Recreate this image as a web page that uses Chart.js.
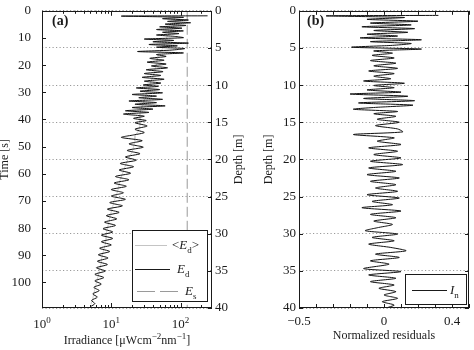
<!DOCTYPE html>
<html>
<head>
<meta charset="utf-8">
<script src="https://cdn.jsdelivr.net/npm/chart.js@4.4.1/dist/chart.umd.min.js"></script>
<style>
  body { margin: 0; background: #fff; width: 474px; height: 350px; position: relative; overflow: hidden; }
  .panel { position: absolute; top: 0; }
  #panelA { left: 0; }
  #panelB { left: 252px; }
</style>
</head>
<body>
<div class="panel" id="panelA"><canvas id="irrChart" width="252" height="350"></canvas></div>
<div class="panel" id="panelB"><canvas id="resChart" width="222" height="350"></canvas></div>
<script>
const SERIF = "'Liberation Serif', 'DejaVu Serif', serif";
const INK = "#1a1a1a";

// =============================
// PANEL (a): irradiance against time
// =============================
const edTime = [
  1.85, 1.95, 2.4, 2.9, 3.4, 3.9, 4.4, 4.9, 5.4, 5.9, 6.4, 6.9, 7.4, 7.9, 8.4, 8.9, 9.4,
  9.9, 10.4, 10.9, 11.4, 11.9, 12.4, 12.9, 13.4, 13.9, 14.5, 15.0, 15.5,
  16.1, 16.8, 17.5, 18.2, 18.9, 19.6, 20.3, 21.0, 21.7, 22.4, 23.1, 23.8, 24.5,
  25.2, 25.9, 26.6, 27.3, 27.8, 28.4, 29.0, 29.6,
  30.2, 30.8, 31.4, 32.0, 32.6, 33.2, 33.8, 34.4, 35.0, 35.6, 36.2, 36.8, 37.4,
  38.0, 38.8, 39.6, 40.4, 41.2,
  42.4, 43.6, 44.8, 45.7, 46.6, 47.8, 49.0, 50.2, 51.4, 52.6, 53.8, 55.0, 56.2, 57.4, 58.6, 59.8, 61.0, 62.2, 63.4, 64.6,
  65.8, 67.0, 68.2, 69.4, 70.6, 71.8, 73.0, 74.2, 75.4, 76.6, 77.8, 79.0, 80.2, 81.4, 82.6, 83.8, 85.0, 86.2, 87.4, 88.6,
  89.8, 91.0, 92.2, 93.4, 94.6, 95.8, 97.0, 98.2, 99.4, 100.6, 101.8, 103.0, 104.2, 105.4, 106.6, 107.8, 108.9
];
const edVal = [
  246, 14, 110, 55, 130, 65, 140, 60, 120, 50, 105, 45, 110, 55, 95, 45, 80,
  110, 30, 80, 40, 130, 35, 90, 45, 115, 70, 24, 110,
  45, 62, 36, 58, 33, 62, 38, 65, 32, 56, 30, 52, 28,
  58, 30, 52, 29, 48, 23, 50, 26,
  55, 20, 45, 25, 55, 18, 45, 22, 60, 20, 40, 16, 35,
  15, 30, 21, 32, 22,
  33, 22, 30, 21, 14, 28, 18, 29, 17, 26, 16, 23, 13.5, 21, 13, 19, 11.5, 18, 11, 16.5,
  10, 15, 10, 16, 9.5, 14.5, 8.8, 13, 8.5, 12, 8, 11.5, 7.6, 10.5, 7.2, 10.5, 7.2, 10, 6.8, 9.5,
  6.5, 9, 6.3, 8.8, 6.1, 8.2, 5.8, 7.8, 5.8, 7.2, 5.6, 6.7, 5.4, 6.3, 5.2, 5.8, 5.0
];

// running mean <Ed>
const meanTime = [2, 4, 6, 8, 10, 12, 14, 16, 18, 20, 22, 24, 26, 28, 30, 32, 34, 36, 38, 40,
  42, 44, 46, 48, 50, 52, 54, 56, 58, 60, 62, 64, 66, 68, 70, 72, 74, 76, 78, 80,
  82, 84, 86, 88, 90, 92, 94, 96, 98, 100, 102, 104, 106, 108];
const meanVal = [80, 85, 78, 70, 62, 60, 55, 48, 46, 45, 42, 41, 37, 36, 33, 31, 29, 27, 26, 26,
  26, 25, 22, 22, 21, 20, 18, 16.5, 15.5, 14.5, 13.5, 13, 12.5, 11.8, 11, 10.5, 10, 9.5, 9.2, 8.8,
  8.5, 8.4, 8.2, 7.8, 7.4, 7.2, 7, 6.7, 6.4, 6.1, 5.9, 5.6, 5.4, 5.1];

// surface reference Es
const esTime = [0, 109.4];
const esVal = [125, 125];

const timeMax = 109.4;
const depthMax = 40;
const irrMin = 1;
const irrMax = 285;
const timeTicks = [0, 10, 20, 30, 40, 50, 60, 70, 80, 90, 100];
const depthTicks = [0, 5, 10, 15, 20, 25, 30, 35, 40];
const decadeTicks = [1, 10, 100];
const minorLogTicks = [2, 3, 4, 5, 6, 7, 8, 9, 20, 30, 40, 50, 60, 70, 80, 90, 200];

// =============================
// PANEL (b): normalized residuals against depth
// =============================
const resDepth = [
  0.62, 0.68, 0.9, 1.15, 1.4, 1.65, 1.9, 2.15, 2.4, 2.65, 2.9, 3.15, 3.4, 3.65, 3.9, 4.15, 4.4, 4.65, 4.9, 5.15, 5.4,
  5.7, 6.0, 6.35, 6.7, 7.05, 7.4, 7.75, 8.1, 8.45, 8.8, 9.15, 9.45, 9.75, 10.05, 10.35, 10.65, 10.95, 11.2, 11.5, 11.8,
  12.1, 12.4, 12.7, 13.0, 13.25, 13.55, 13.85,
  14.2, 14.6, 15.0, 15.45, 15.9, 16.3, 16.65, 17.1, 17.55, 18.0, 18.45, 18.9, 19.35, 19.8, 20.25, 20.7, 21.15, 21.6, 22.05, 22.5,
  22.95, 23.4, 23.85, 24.3, 24.75, 25.2, 25.65, 26.1, 26.5, 26.95, 27.4, 27.85, 28.3, 28.75, 29.2, 29.6, 30.05, 30.5, 30.95, 31.4,
  31.85, 32.3, 32.75, 33.2, 33.65, 34.1, 34.7, 35.1, 35.55, 36.0, 36.45, 36.9, 37.35, 37.8, 38.25, 38.7, 39.15, 39.6, 39.95
];
const resVal = [
  0.32, -0.34, 0.12, -0.10, 0.20, -0.08, 0.16, -0.13, 0.18, -0.06, 0.14, -0.10, 0.08, -0.14, 0.22, -0.08, 0.16, 0.05, -0.19, 0.22, -0.06,
  0.05, -0.07, 0.06, -0.08, 0.07, -0.06, 0.08, -0.09, 0.06, -0.06, 0.04, -0.12, 0.12, -0.06, 0.06, -0.10, 0.10, -0.20, 0.14, -0.12,
  0.18, -0.15, 0.17, -0.05, -0.18, 0.08, -0.06,
  0.07, -0.04, 0.09, -0.05, 0.08, 0.11, -0.18, 0.06, -0.04, 0.10, -0.09, 0.08, -0.06, 0.10, -0.08, 0.11, -0.09, 0.07, -0.10, 0.09,
  -0.08, 0.07, -0.05, 0.08, -0.10, 0.09, -0.07, 0.05, -0.13, 0.10, -0.08, 0.07, -0.06, 0.05, -0.04, -0.11, 0.08, -0.07, 0.06, -0.09,
  0.04, 0.13, -0.05, 0.09, -0.08, 0.03, -0.12, 0.10, -0.09, 0.07, -0.08, 0.06, -0.03, 0.07, 0.00, 0.08, -0.01, 0.06, 0.02
];
const resTicks = [-0.5, -0.4, -0.3, -0.2, -0.1, 0, 0.1, 0.2, 0.3, 0.4, 0.5];
const resLabelled = [-0.5, 0, 0.4];

// =============================
// HELPERS
// =============================
function pairs(xs, ys) {
  let n = Math.min(xs.length, ys.length);
  let out = [];
  for (let i = 0; i < n; i++) out.push({ x: xs[i], y: ys[i] });
  return out;
}

function line(ctx, x1, y1, x2, y2) {
  ctx.beginPath();
  ctx.moveTo(x1, y1);
  ctx.lineTo(x2, y2);
  ctx.stroke();
}

function partFont(p, size) {
  let s = (p.sub || p.sup) ? Math.round(size * 0.72) : size;
  return (p.it ? "italic " : "") + (p.bold ? "bold " : "") + s + "px " + SERIF;
}

// text made of pieces, some italic / sub / superscript
function richText(ctx, parts, x, y, size, align) {
  let w = 0;
  parts.forEach(p => { ctx.font = partFont(p, size); p.w = ctx.measureText(p.t).width; w += p.w; });
  let cx = align === "center" ? x - w / 2 : (align === "right" ? x - w : x);
  ctx.textAlign = "left";
  ctx.textBaseline = "alphabetic";
  parts.forEach(p => {
    ctx.font = partFont(p, size);
    let dy = p.sup ? -size * 0.4 : (p.sub ? size * 0.28 : 0);
    ctx.fillText(p.t, cx, y + dy);
    cx += p.w;
  });
}

function verticalTitle(ctx, text, x, yMid, size) {
  ctx.save();
  ctx.translate(x, yMid);
  ctx.rotate(-Math.PI / 2);
  richText(ctx, [{ t: text }], 0, 0, size, "center");
  ctx.restore();
}

function frame(ctx, a) {
  ctx.strokeRect(Math.round(a.left) + 0.5, Math.round(a.top) + 0.5,
    Math.round(a.right - a.left) - 1, Math.round(a.bottom - a.top) - 1);
}

function residualLabel(v) {
  return v < 0 ? "\u2212" + Math.abs(v) : String(v);
}

const tickFont = { family: SERIF, size: 13 };

// =============================
// PANEL (a) CHART
// =============================
const irrDecor = {
  id: "irrDecor",
  afterDraw(chart) {
    let ctx = chart.ctx, a = chart.chartArea;
    let x = chart.scales.x, yt = chart.scales.yTime, yd = chart.scales.yDepth;
    ctx.save();
    ctx.strokeStyle = INK;
    ctx.fillStyle = INK;
    ctx.lineWidth = 1;
    frame(ctx, a);

    // inward ticks
    decadeTicks.forEach(v => {
      let px = Math.round(x.getPixelForValue(v)) + 0.5;
      line(ctx, px, a.bottom, px, a.bottom - 5);
      line(ctx, px, a.top, px, a.top + 5);
    });
    minorLogTicks.forEach(v => {
      let px = Math.round(x.getPixelForValue(v)) + 0.5;
      line(ctx, px, a.bottom, px, a.bottom - 3);
      line(ctx, px, a.top, px, a.top + 3);
    });
    timeTicks.forEach(v => {
      let py = Math.round(yt.getPixelForValue(v)) + 0.5;
      line(ctx, a.left, py, a.left + 4, py);
    });
    depthTicks.forEach(v => {
      let py = Math.round(yd.getPixelForValue(v)) + 0.5;
      line(ctx, a.right, py, a.right - 4, py);
    });

    // decade labels 10^n
    decadeTicks.forEach(v => {
      richText(ctx, [{ t: "10" }, { t: String(Math.round(Math.log10(v))), sup: true }],
        x.getPixelForValue(v), 328, 13, "center");
    });

    // axis titles
    richText(ctx, [{ t: "Irradiance [\u03BCWcm" }, { t: "\u22122", sup: true }, { t: "nm" }, { t: "\u22121", sup: true }, { t: "]" }],
      (a.left + a.right) / 2, 344, 12, "center");
    verticalTitle(ctx, "Time [s]", 8, (a.top + a.bottom) / 2, 12);
    verticalTitle(ctx, "Depth [m]", 242, (a.top + a.bottom) / 2, 12);

    // panel letter
    richText(ctx, [{ t: "(a)", bold: true }], 52, 25, 14, "left");

    // legend
    ctx.fillStyle = "#fff";
    ctx.fillRect(132, 230, 75, 71);
    ctx.strokeRect(132.5, 230.5, 75, 71);
    ctx.fillStyle = INK;
    ctx.strokeStyle = "#c4c4c4";
    line(ctx, 135, 245.5, 167, 245.5);
    ctx.strokeStyle = INK;
    ctx.lineWidth = 1.2;
    line(ctx, 135, 269.5, 170, 269.5);
    ctx.lineWidth = 1;
    ctx.strokeStyle = "#9a9a9a";
    ctx.setLineDash([18, 5]);
    line(ctx, 137, 291.5, 178, 291.5);
    ctx.setLineDash([]);
    richText(ctx, [{ t: "<" }, { t: "E", it: true }, { t: "d", sub: true }, { t: ">" }], 172, 249, 13, "left");
    richText(ctx, [{ t: "E", it: true }, { t: "d", sub: true }], 177, 273, 13, "left");
    richText(ctx, [{ t: "E", it: true }, { t: "s", sub: true }], 185, 295, 13, "left");
    ctx.restore();
  }
};

new Chart(document.getElementById("irrChart"), {
  type: "scatter",
  data: {
    datasets: [
      {
        label: "Ed",
        data: pairs(edVal, edTime),
        showLine: true,
        borderColor: "#111",
        borderWidth: 1,
        pointRadius: 0,
        tension: 0.25,
        xAxisID: "x",
        yAxisID: "yTime",
        order: 0
      },
      {
        label: "<Ed>",
        data: pairs(meanVal, meanTime),
        showLine: true,
        borderColor: "#d0d0d0",
        borderWidth: 1,
        pointRadius: 0,
        xAxisID: "x",
        yAxisID: "yTime",
        order: 1
      },
      {
        label: "Es",
        data: pairs(esVal, esTime),
        showLine: true,
        borderColor: "#9a9a9a",
        borderWidth: 1,
        borderDash: [10, 4],
        pointRadius: 0,
        xAxisID: "x",
        yAxisID: "yTime",
        order: 2
      }
    ]
  },
  options: {
    responsive: false,
    animation: false,
    devicePixelRatio: 1,
    layout: { padding: { top: 5, left: 0, right: 0, bottom: 0 } },
    plugins: { legend: { display: false }, tooltip: { enabled: false } },
    scales: {
      x: {
        type: "logarithmic",
        position: "bottom",
        min: irrMin,
        max: irrMax,
        ticks: { display: false },
        grid: { display: false },
        border: { display: false },
        afterFit(s) { s.height = 42; }
      },
      yTime: {
        type: "linear",
        position: "left",
        reverse: true,
        min: 0,
        max: timeMax,
        afterBuildTicks(s) { s.ticks = timeTicks.map(v => ({ value: v })); },
        ticks: { font: tickFont, color: INK, padding: 3 },
        grid: { display: false },
        border: { display: false },
        afterFit(s) { s.width = 42; }
      },
      yDepth: {
        type: "linear",
        position: "right",
        reverse: true,
        min: 0,
        max: depthMax,
        afterBuildTicks(s) { s.ticks = depthTicks.map(v => ({ value: v })); },
        ticks: { font: tickFont, color: INK, padding: 3 },
        grid: { color: "#9a9a9a", lineWidth: 1, drawTicks: false },
        border: { display: false, dash: [1.2, 2.3] },
        afterFit(s) { s.width = 40; }
      }
    }
  },
  plugins: [irrDecor]
});

// =============================
// PANEL (b) CHART
// =============================
const resDecor = {
  id: "resDecor",
  afterDraw(chart) {
    let ctx = chart.ctx, a = chart.chartArea;
    let x = chart.scales.x, y = chart.scales.y;
    ctx.save();
    ctx.strokeStyle = INK;
    ctx.fillStyle = INK;
    ctx.lineWidth = 1;
    frame(ctx, a);

    resTicks.forEach(v => {
      let px = Math.round(x.getPixelForValue(v)) + 0.5;
      line(ctx, px, a.bottom, px, a.bottom - 4);
      line(ctx, px, a.top, px, a.top + 4);
    });
    depthTicks.forEach(v => {
      let py = Math.round(y.getPixelForValue(v)) + 0.5;
      line(ctx, a.left, py, a.left + 4, py);
      line(ctx, a.right, py, a.right - 4, py);
    });

    // labelled residual ticks
    resLabelled.forEach(v => {
      richText(ctx, [{ t: residualLabel(v) }], x.getPixelForValue(v), 325, 13, "center");
    });

    richText(ctx, [{ t: "Normalized residuals" }], (a.left + a.right) / 2, 339, 12, "center");
    verticalTitle(ctx, "Depth [m]", 20, (a.top + a.bottom) / 2, 12);
    richText(ctx, [{ t: "(b)", bold: true }], 55, 25, 14, "left");

    // legend
    ctx.fillStyle = "#fff";
    ctx.fillRect(153, 274, 61, 30);
    ctx.strokeRect(153.5, 274.5, 61, 30);
    ctx.fillStyle = INK;
    ctx.lineWidth = 1.2;
    line(ctx, 160, 290.5, 195, 290.5);
    richText(ctx, [{ t: "I", it: true }, { t: "n", sub: true }], 198, 294, 13, "left");
    ctx.restore();
  }
};

new Chart(document.getElementById("resChart"), {
  type: "scatter",
  data: {
    datasets: [{
      label: "In",
      data: pairs(resVal, resDepth),
      showLine: true,
      borderColor: "#111",
      borderWidth: 1,
      pointRadius: 0,
      tension: 0.25
    }]
  },
  options: {
    responsive: false,
    animation: false,
    devicePixelRatio: 1,
    layout: { padding: { top: 5, left: 0, right: 5, bottom: 0 } },
    plugins: { legend: { display: false }, tooltip: { enabled: false } },
    scales: {
      x: {
        type: "linear",
        position: "bottom",
        min: -0.5,
        max: 0.5,
        ticks: { display: false },
        grid: { display: false },
        border: { display: false },
        afterFit(s) { s.height = 42; }
      },
      y: {
        type: "linear",
        position: "left",
        reverse: true,
        min: 0,
        max: depthMax,
        afterBuildTicks(s) { s.ticks = depthTicks.map(v => ({ value: v })); },
        ticks: { font: tickFont, color: INK, padding: 3 },
        grid: { color: "#9a9a9a", lineWidth: 1, drawTicks: false },
        border: { display: false, dash: [1.2, 2.3] },
        afterFit(s) { s.width = 47; }
      }
    }
  },
  plugins: [resDecor]
});
</script>
</body>
</html>
